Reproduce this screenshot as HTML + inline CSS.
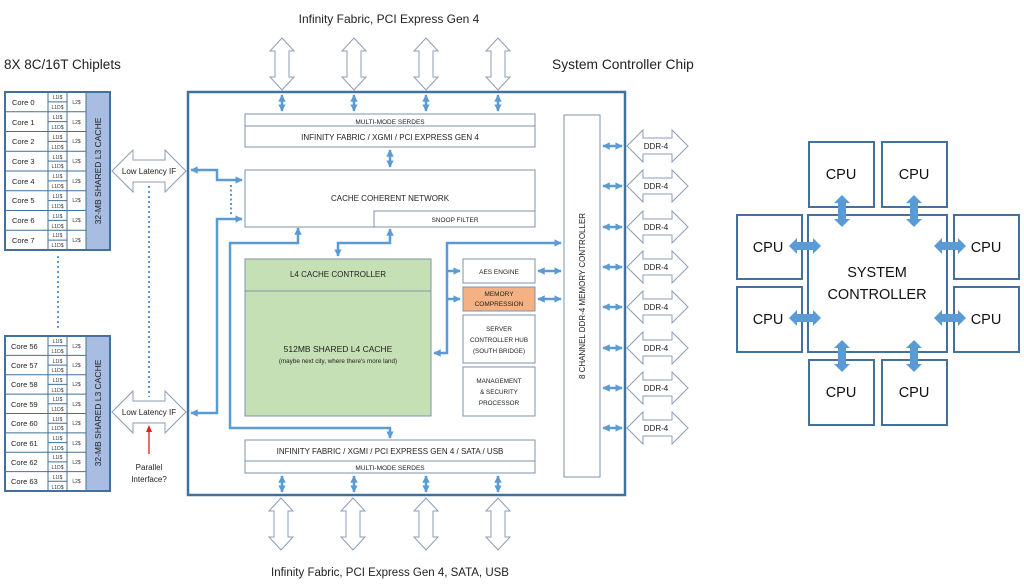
<!DOCTYPE html>
<html><head><meta charset="utf-8"><style>
html,body{margin:0;padding:0;background:#fff;}
svg{display:block;font-family:"Liberation Sans",sans-serif;}
</style></head><body>
<svg width="1024" height="586" viewBox="0 0 1024 586" xmlns="http://www.w3.org/2000/svg">
<defs>
<marker id="ah" viewBox="0 0 10 10" refX="9" refY="5" markerWidth="3" markerHeight="3" orient="auto-start-reverse"><path d="M0,0 L10,5 L0,10 Z" fill="#5b9bd5"/></marker>
<path id="va" d="M0,0 L12,13 L7,13 L7,39 L12,39 L0,52 L-12,39 L-7,39 L-7,13 L-12,13 Z" fill="#fff" stroke="#8c9db3" stroke-width="1"/>
<path id="ddr" d="M0,0 L16,-16 L16,-8 L45,-8 L45,-16 L61,0 L45,16 L45,8 L16,8 L16,16 Z" fill="#fff" stroke="#8c9db3" stroke-width="1"/>
<path id="llif" d="M0,0 L21,-21 L21,-11 L53,-11 L53,-21 L74,0 L53,21 L53,11 L21,11 L21,21 Z" fill="#fff" stroke="#8c9db3" stroke-width="1"/>
<path id="bha" d="M-16,0 L-8,-8 L-8,-4 L8,-4 L8,-8 L16,0 L8,8 L8,4 L-8,4 L-8,8 Z" fill="#5b9bd5"/>
<path id="bva" d="M0,-16 L8,-8 L4,-8 L4,8 L8,8 L0,16 L-8,8 L-4,8 L-4,-8 L-8,-8 Z" fill="#5b9bd5"/>
</defs>

<text x="389" y="23" font-size="12" text-anchor="middle" fill="#222">Infinity Fabric, PCI Express Gen 4</text>
<text x="4" y="69" font-size="13.5" fill="#222">8X 8C/16T Chiplets</text>
<text x="552" y="69" font-size="13.8" fill="#222">System Controller Chip</text>
<text x="390" y="576" font-size="11.5" text-anchor="middle" fill="#222">Infinity Fabric, PCI Express Gen 4, SATA, USB</text>

<use href="#va" x="282" y="38"/><use href="#va" x="354" y="38"/><use href="#va" x="426" y="38"/><use href="#va" x="498" y="38"/>
<use href="#va" x="281" y="498"/><use href="#va" x="353" y="498"/><use href="#va" x="426" y="498"/><use href="#va" x="498" y="498"/>

<g font-size="8" fill="#222" text-anchor="middle">
<use href="#ddr" x="627" y="146"/><text x="656" y="149">DDR-4</text>
<use href="#ddr" x="627" y="186"/><text x="656" y="189">DDR-4</text>
<use href="#ddr" x="627" y="227"/><text x="656" y="230">DDR-4</text>
<use href="#ddr" x="627" y="267"/><text x="656" y="270">DDR-4</text>
<use href="#ddr" x="627" y="307"/><text x="656" y="310">DDR-4</text>
<use href="#ddr" x="627" y="348"/><text x="656" y="351">DDR-4</text>
<use href="#ddr" x="627" y="388"/><text x="656" y="391">DDR-4</text>
<use href="#ddr" x="627" y="428"/><text x="656" y="431">DDR-4</text>
</g>

<use href="#llif" x="112" y="171"/><text x="149" y="174" font-size="8" text-anchor="middle" fill="#222">Low Latency IF</text>
<use href="#llif" x="112" y="412"/><text x="149" y="415" font-size="8" text-anchor="middle" fill="#222">Low Latency IF</text>
<line x1="149" y1="186" x2="149" y2="397" stroke="#5b9bd5" stroke-width="2" stroke-dasharray="2,3"/>
<line x1="58" y1="256" x2="58" y2="330" stroke="#5b9bd5" stroke-width="2" stroke-dasharray="2,3"/>
<line x1="149" y1="454" x2="149" y2="430" stroke="#e02020" stroke-width="1.3"/>
<path d="M149,425 L152,432 L146,432 Z" fill="#e02020"/>
<text x="149" y="470" font-size="8" text-anchor="middle" fill="#222">Parallel</text>
<text x="149" y="482" font-size="8" text-anchor="middle" fill="#222">Interface?</text>

<rect x="5" y="92" width="105" height="158" fill="#fff" stroke="#41719c" stroke-width="2"/>
<rect x="86" y="93" width="23" height="156" fill="#a9bde3"/>
<g stroke="#41719c" stroke-width="1" fill="none">
<line x1="48" y1="92" x2="48" y2="250"/><line x1="67" y1="92" x2="67" y2="250"/><line x1="86" y1="92" x2="86" y2="250"/>
<line x1="5" y1="111.75" x2="86" y2="111.75"/><line x1="5" y1="131.5" x2="86" y2="131.5"/><line x1="5" y1="151.25" x2="86" y2="151.25"/><line x1="5" y1="171" x2="86" y2="171"/><line x1="5" y1="190.75" x2="86" y2="190.75"/><line x1="5" y1="210.5" x2="86" y2="210.5"/><line x1="5" y1="230.25" x2="86" y2="230.25"/>
<line x1="48" y1="101.9" x2="67" y2="101.9"/><line x1="48" y1="121.6" x2="67" y2="121.6"/><line x1="48" y1="141.4" x2="67" y2="141.4"/><line x1="48" y1="161.1" x2="67" y2="161.1"/><line x1="48" y1="180.9" x2="67" y2="180.9"/><line x1="48" y1="200.6" x2="67" y2="200.6"/><line x1="48" y1="220.4" x2="67" y2="220.4"/><line x1="48" y1="240.1" x2="67" y2="240.1"/>
</g>
<rect x="5" y="336" width="105" height="155" fill="none" stroke="#41719c" stroke-width="2"/>
<rect x="86" y="337" width="23" height="153" fill="#a9bde3"/>
<g stroke="#41719c" stroke-width="1" fill="none">
<line x1="48" y1="336" x2="48" y2="491"/><line x1="67" y1="336" x2="67" y2="491"/><line x1="86" y1="336" x2="86" y2="491"/>
<line x1="5" y1="355.4" x2="86" y2="355.4"/><line x1="5" y1="374.8" x2="86" y2="374.8"/><line x1="5" y1="394.1" x2="86" y2="394.1"/><line x1="5" y1="413.5" x2="86" y2="413.5"/><line x1="5" y1="432.9" x2="86" y2="432.9"/><line x1="5" y1="452.3" x2="86" y2="452.3"/><line x1="5" y1="471.6" x2="86" y2="471.6"/>
<line x1="48" y1="345.7" x2="67" y2="345.7"/><line x1="48" y1="365.1" x2="67" y2="365.1"/><line x1="48" y1="384.4" x2="67" y2="384.4"/><line x1="48" y1="403.8" x2="67" y2="403.8"/><line x1="48" y1="423.2" x2="67" y2="423.2"/><line x1="48" y1="442.6" x2="67" y2="442.6"/><line x1="48" y1="461.9" x2="67" y2="461.9"/><line x1="48" y1="481.3" x2="67" y2="481.3"/>
</g>
<g font-size="7.5" fill="#222">
<text x="12" y="105">Core 0</text><text x="12" y="125">Core 1</text><text x="12" y="144">Core 2</text><text x="12" y="164">Core 3</text><text x="12" y="184">Core 4</text><text x="12" y="203">Core 5</text><text x="12" y="223">Core 6</text><text x="12" y="243">Core 7</text>
<text x="11" y="349">Core 56</text><text x="11" y="368">Core 57</text><text x="11" y="387">Core 58</text><text x="11" y="407">Core 59</text><text x="11" y="426">Core 60</text><text x="11" y="446">Core 61</text><text x="11" y="465">Core 62</text><text x="11" y="484">Core 63</text>
</g>
<g font-size="5" fill="#333" text-anchor="middle">
<text x="57.5" y="99">L1I$</text><text x="57.5" y="109">L1D$</text><text x="76.5" y="104">L2$</text>
<text x="57.5" y="119">L1I$</text><text x="57.5" y="129">L1D$</text><text x="76.5" y="124">L2$</text>
<text x="57.5" y="139">L1I$</text><text x="57.5" y="149">L1D$</text><text x="76.5" y="143">L2$</text>
<text x="57.5" y="159">L1I$</text><text x="57.5" y="168">L1D$</text><text x="76.5" y="163">L2$</text>
<text x="57.5" y="178">L1I$</text><text x="57.5" y="188">L1D$</text><text x="76.5" y="183">L2$</text>
<text x="57.5" y="198">L1I$</text><text x="57.5" y="208">L1D$</text><text x="76.5" y="202">L2$</text>
<text x="57.5" y="218">L1I$</text><text x="57.5" y="228">L1D$</text><text x="76.5" y="222">L2$</text>
<text x="57.5" y="237">L1I$</text><text x="57.5" y="247">L1D$</text><text x="76.5" y="242">L2$</text>
<text x="57.5" y="343">L1I$</text><text x="57.5" y="353">L1D$</text><text x="76.5" y="348">L2$</text>
<text x="57.5" y="363">L1I$</text><text x="57.5" y="372">L1D$</text><text x="76.5" y="367">L2$</text>
<text x="57.5" y="382">L1I$</text><text x="57.5" y="392">L1D$</text><text x="76.5" y="386">L2$</text>
<text x="57.5" y="401">L1I$</text><text x="57.5" y="411">L1D$</text><text x="76.5" y="406">L2$</text>
<text x="57.5" y="421">L1I$</text><text x="57.5" y="430">L1D$</text><text x="76.5" y="425">L2$</text>
<text x="57.5" y="440">L1I$</text><text x="57.5" y="450">L1D$</text><text x="76.5" y="445">L2$</text>
<text x="57.5" y="459">L1I$</text><text x="57.5" y="469">L1D$</text><text x="76.5" y="464">L2$</text>
<text x="57.5" y="479">L1I$</text><text x="57.5" y="489">L1D$</text><text x="76.5" y="483">L2$</text>
</g>
<text transform="translate(101,171) rotate(-90)" font-size="8.5" text-anchor="middle" fill="#222">32-MB SHARED  L3  CACHE</text>
<text transform="translate(101,413) rotate(-90)" font-size="8.5" text-anchor="middle" fill="#222">32-MB SHARED  L3  CACHE</text>

<rect x="188" y="92" width="437" height="403" fill="none" stroke="#41719c" stroke-width="2.5"/>
<g fill="#fff" stroke="#7f93ad" stroke-width="1">
<rect x="245" y="114" width="290" height="33"/><line x1="245" y1="126" x2="535" y2="126"/>
<rect x="245" y="170" width="290" height="57"/><rect x="374" y="211" width="161" height="16"/>
<rect x="245" y="259" width="186" height="157" fill="#c5e0b4"/><line x1="245" y1="291" x2="431" y2="291"/>
<rect x="463" y="259" width="72" height="24"/>
<rect x="463" y="287" width="72" height="24" fill="#f4b183"/>
<rect x="463" y="315" width="72" height="48"/>
<rect x="463" y="367" width="72" height="49"/>
<rect x="245" y="440" width="290" height="33"/><line x1="245" y1="461" x2="535" y2="461"/>
<rect x="564" y="115" width="36" height="362"/>
</g>
<g fill="#222" text-anchor="middle">
<text x="390" y="124" font-size="6.5">MULTI-MODE SERDES</text>
<text x="390" y="140" font-size="8">INFINITY FABRIC / XGMI / PCI EXPRESS GEN  4</text>
<text x="390" y="201" font-size="8">CACHE  COHERENT  NETWORK</text>
<text x="455" y="222" font-size="6.5">SNOOP FILTER</text>
<text x="338" y="277" font-size="8">L4 CACHE  CONTROLLER</text>
<text x="338" y="352" font-size="8.5">512MB SHARED  L4  CACHE</text>
<text x="338" y="363" font-size="6.3">(maybe next city, where there's more land)</text>
<text x="499" y="274" font-size="6.5">AES ENGINE</text>
<text x="499" y="296" font-size="6.5">MEMORY</text><text x="499" y="306" font-size="6.5">COMPRESSION</text>
<text x="499" y="331" font-size="6.3">SERVER</text><text x="499" y="342" font-size="6.3">CONTROLLER HUB</text><text x="499" y="353" font-size="6.3">(SOUTH BRIDGE)</text>
<text x="499" y="383" font-size="6.3">MANAGEMENT</text><text x="499" y="394" font-size="6.3">&amp; SECURITY</text><text x="499" y="405" font-size="6.3">PROCESSOR</text>
<text x="390" y="454" font-size="8">INFINITY FABRIC / XGMI / PCI EXPRESS GEN  4 / SATA  / USB</text>
<text x="390" y="470" font-size="6.5">MULTI-MODE SERDES</text>
<text transform="translate(585,296) rotate(-90)" font-size="8">8 CHANNEL  DDR-4  MEMORY CONTROLLER</text>
</g>

<g stroke="#5b9bd5" stroke-width="2.5" fill="none">
<line x1="282" y1="95" x2="282" y2="111" marker-start="url(#ah)" marker-end="url(#ah)"/>
<line x1="354" y1="95" x2="354" y2="111" marker-start="url(#ah)" marker-end="url(#ah)"/>
<line x1="426" y1="95" x2="426" y2="111" marker-start="url(#ah)" marker-end="url(#ah)"/>
<line x1="498" y1="95" x2="498" y2="111" marker-start="url(#ah)" marker-end="url(#ah)"/>
<line x1="282" y1="476" x2="282" y2="492" marker-start="url(#ah)" marker-end="url(#ah)"/>
<line x1="354" y1="476" x2="354" y2="492" marker-start="url(#ah)" marker-end="url(#ah)"/>
<line x1="426" y1="476" x2="426" y2="492" marker-start="url(#ah)" marker-end="url(#ah)"/>
<line x1="498" y1="476" x2="498" y2="492" marker-start="url(#ah)" marker-end="url(#ah)"/>
<line x1="390" y1="150" x2="390" y2="167" marker-start="url(#ah)" marker-end="url(#ah)"/>
<line x1="603" y1="146" x2="622" y2="146" marker-start="url(#ah)" marker-end="url(#ah)"/>
<line x1="603" y1="186" x2="622" y2="186" marker-start="url(#ah)" marker-end="url(#ah)"/>
<line x1="603" y1="227" x2="622" y2="227" marker-start="url(#ah)" marker-end="url(#ah)"/>
<line x1="603" y1="267" x2="622" y2="267" marker-start="url(#ah)" marker-end="url(#ah)"/>
<line x1="603" y1="307" x2="622" y2="307" marker-start="url(#ah)" marker-end="url(#ah)"/>
<line x1="603" y1="348" x2="622" y2="348" marker-start="url(#ah)" marker-end="url(#ah)"/>
<line x1="603" y1="388" x2="622" y2="388" marker-start="url(#ah)" marker-end="url(#ah)"/>
<line x1="603" y1="428" x2="622" y2="428" marker-start="url(#ah)" marker-end="url(#ah)"/>
<line x1="538" y1="271" x2="561" y2="271" marker-start="url(#ah)" marker-end="url(#ah)"/>
<line x1="538" y1="299" x2="561" y2="299" marker-start="url(#ah)" marker-end="url(#ah)"/>
<polyline points="191,170 217,170 217,180 242,180" marker-start="url(#ah)" marker-end="url(#ah)"/>
<polyline points="242,219 217,219 217,413 191,413" marker-start="url(#ah)" marker-end="url(#ah)"/>
<polyline points="298,228 298,243 230,243 230,428 390,428 390,438" marker-start="url(#ah)" marker-end="url(#ah)"/>
<polyline points="390,229 390,243 338,243 338,256" marker-start="url(#ah)" marker-end="url(#ah)"/>
<polyline points="561,243 447,243 447,353 434,353" marker-start="url(#ah)" marker-end="url(#ah)"/>
<line x1="447" y1="271" x2="460" y2="271" marker-end="url(#ah)"/>
<line x1="447" y1="299" x2="460" y2="299" marker-end="url(#ah)"/>
</g>
<line x1="231" y1="185" x2="231" y2="215" stroke="#5b9bd5" stroke-width="2" stroke-dasharray="2,2.5"/>

<g fill="#fff" stroke="#41719c" stroke-width="2">
<rect x="809" y="142" width="65" height="65"/><rect x="882" y="142" width="65" height="65"/>
<rect x="737" y="215" width="65" height="64"/><rect x="737" y="287" width="65" height="65"/>
<rect x="954" y="215" width="65" height="64"/><rect x="954" y="287" width="65" height="65"/>
<rect x="809" y="360" width="65" height="65"/><rect x="882" y="360" width="65" height="65"/>
<rect x="808" y="215" width="139" height="137"/>
</g>
<g font-size="14.5" fill="#111" text-anchor="middle">
<text x="841" y="179">CPU</text><text x="914" y="179">CPU</text>
<text x="768" y="252">CPU</text><text x="768" y="324">CPU</text>
<text x="986" y="252">CPU</text><text x="986" y="324">CPU</text>
<text x="841" y="397">CPU</text><text x="914" y="397">CPU</text>
<text x="877" y="277">SYSTEM</text><text x="877" y="299">CONTROLLER</text>
</g>
<use href="#bva" x="842" y="211"/><use href="#bva" x="914" y="211"/>
<use href="#bva" x="842" y="356"/><use href="#bva" x="914" y="356"/>
<use href="#bha" x="805" y="246"/><use href="#bha" x="805" y="318"/>
<use href="#bha" x="950" y="246"/><use href="#bha" x="950" y="318"/>
</svg>
</body></html>
